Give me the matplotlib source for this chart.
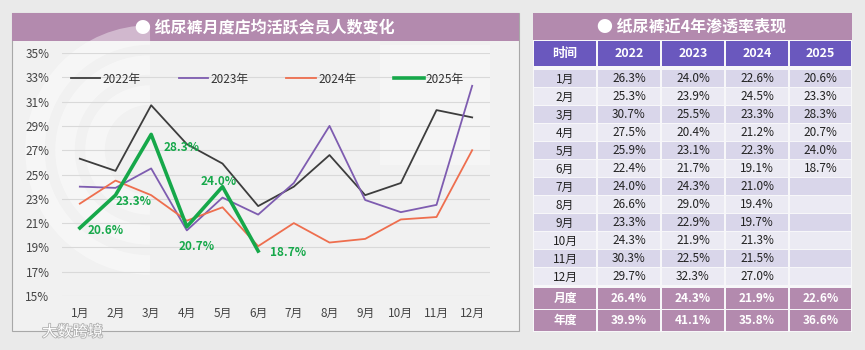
import numpy as np
import matplotlib
matplotlib.use("Agg")
import matplotlib.pyplot as plt
from matplotlib.patches import Rectangle, Arc
import matplotlib.patheffects as pe

plt.rcParams['font.family'] = ['Noto Sans CJK SC', 'DejaVu Sans']

months = ['1月', '2月', '3月', '4月', '5月', '6月', '7月', '8月', '9月', '10月', '11月', '12月']
years = ['2022', '2023', '2024', '2025']
v2022 = [26.3, 25.3, 30.7, 27.5, 25.9, 22.4, 24.0, 26.6, 23.3, 24.3, 30.3, 29.7]
v2023 = [24.0, 23.9, 25.5, 20.4, 23.1, 21.7, 24.3, 29.0, 22.9, 21.9, 22.5, 32.3]
v2024 = [22.6, 24.5, 23.3, 21.2, 22.3, 19.1, 21.0, 19.4, 19.7, 21.3, 21.5, 27.0]
v2025 = [20.6, 23.3, 28.3, 20.7, 24.0, 18.7]
monthly_avg = [26.4, 24.3, 21.9, 22.6]
yearly = [39.9, 41.1, 35.8, 36.6]
yticks = list(range(15, 36, 2))

W, H = 865, 350
fig = plt.figure(figsize=(W / 100, H / 100), dpi=100)
fig.patch.set_facecolor('#eaeaea')

# pixel-space overlay for panels and table
bg = fig.add_axes([0, 0, 1, 1])
bg.set_xlim(0, W)
bg.set_ylim(H, 0)
bg.axis('off')

purple = '#b38aae'
blue = '#6a58be'

# left panel
bg.add_patch(Rectangle((12, 13), 507, 318, facecolor='#f1f1f1', edgecolor='#a8a8a8', lw=0.8))
bg.add_patch(Rectangle((12, 13), 507, 28, facecolor=purple, edgecolor='none'))
bg.text(265, 27.5, '● 纸尿裤月度店均活跃会员人数变化', color='white', fontsize=11.5,
        fontweight='bold', ha='center', va='center')

# faint watermark arcs
for r in (55, 85, 115):
    bg.add_patch(Arc((150, 150), 2 * r, 2 * r, theta1=90, theta2=270, color='white', lw=14, alpha=0.4))
bg.add_patch(Rectangle((380, 45), 110, 120, facecolor='white', alpha=0.3, edgecolor='none'))

bg.text(42, 332, '大数跨境', color='white', fontsize=11, ha='left', va='center',
        path_effects=[pe.withStroke(linewidth=1.2, foreground='#b0b0b0')])

# table
cols_x = [533, 597, 661, 725, 789, 852]
bg.add_patch(Rectangle((533, 40), 319, 292, facecolor='#f7f7f9', edgecolor='none'))
bg.add_patch(Rectangle((533, 13), 319, 27, facecolor=purple, edgecolor='none'))
bg.text(692, 26.5, '● 纸尿裤近4年渗透率表现', color='white', fontsize=11.5,
        fontweight='bold', ha='center', va='center')
header = ['时间'] + years
for j in range(5):
    x0, x1 = cols_x[j], cols_x[j + 1]
    bg.add_patch(Rectangle((x0 + 0.5, 41), x1 - x0 - 1.5, 25, facecolor=blue, edgecolor='none'))
    bg.text((x0 + x1) / 2, 53.5, header[j], color='white', fontsize=9, fontweight='bold',
            ha='center', va='center')

series = [v2022, v2023, v2024, v2025]
for i, m in enumerate(months):
    y0 = 78.5 + i * 18
    color = '#d9d6ea' if i % 2 == 0 else '#ebeaf3'
    for j in range(5):
        x0, x1 = cols_x[j], cols_x[j + 1]
        bg.add_patch(Rectangle((x0 + 0.5, y0 - 8.5), x1 - x0 - 1.5, 17, facecolor=color, edgecolor='none'))
        if j == 0:
            txt = m
        else:
            s = series[j - 1]
            txt = f'{s[i]:.1f}%' if i < len(s) else ''
        bg.text((x0 + x1) / 2, y0 + 0.5, txt, color='#222222', fontsize=8.5, ha='center', va='center')

for k, (label, vals) in enumerate([('月度', monthly_avg), ('年度', yearly)]):
    yc = 298.5 + k * 22
    for j in range(5):
        x0, x1 = cols_x[j], cols_x[j + 1]
        bg.add_patch(Rectangle((x0 + 0.5, yc - 10.5), x1 - x0 - 1.5, 21, facecolor=purple, edgecolor='none'))
        txt = label if j == 0 else f'{vals[j - 1]:.1f}%'
        bg.text((x0 + x1) / 2, yc, txt, color='white', fontsize=8.5, fontweight='bold',
                ha='center', va='center')

# line chart
ax = fig.add_axes([62 / W, (H - 296) / H, 428 / W, 243 / H])
ax.set_facecolor('none')
x = np.arange(len(months))
ax.plot(x, v2022, color='#3d3d3d', lw=1.3, label='2022年')
ax.plot(x, v2023, color='#7e5cb0', lw=1.3, label='2023年')
ax.plot(x, v2024, color='#ee6e4e', lw=1.3, label='2024年')
ax.plot(x[:len(v2025)], v2025, color='#16a84a', lw=2.6, label='2025年')

ax.set_xlim(-0.5, 11.5)
ax.set_ylim(15, 35)
ax.set_yticks(yticks)
ax.set_yticklabels([f'{t}%' for t in yticks])
ax.set_xticks(x)
ax.set_xticklabels(months)
ax.grid(axis='y', color='#d9d9d9', lw=0.8)
ax.set_axisbelow(True)
for sp in ax.spines.values():
    sp.set_visible(False)
ax.tick_params(length=0, labelsize=8.5, colors='#444444')
ax.tick_params(axis='y', pad=9)
ax.tick_params(axis='x', pad=8)

leg = ax.legend(loc='center', bbox_to_anchor=(0.48, 0.893), ncol=4, frameon=False,
                fontsize=8.5, handlelength=2.5, handletextpad=0.2, columnspacing=3.2)
for t in leg.get_texts():
    t.set_color('#333333')

offsets = [(8, -3, 'left'), (0, -6, 'left'), (12, -13, 'left'),
           (10, -20, 'center'), (-4, 5, 'center'), (12, -1, 'left')]
for i, v in enumerate(v2025):
    dx, dy, ha = offsets[i]
    ax.annotate(f'{v:.1f}%', (x[i], v), xytext=(dx, dy), textcoords='offset pixels',
                color='#16a84a', fontsize=8.5, fontweight='bold', ha=ha, va='center')

fig.savefig('out.png', dpi=100, facecolor=fig.get_facecolor())
